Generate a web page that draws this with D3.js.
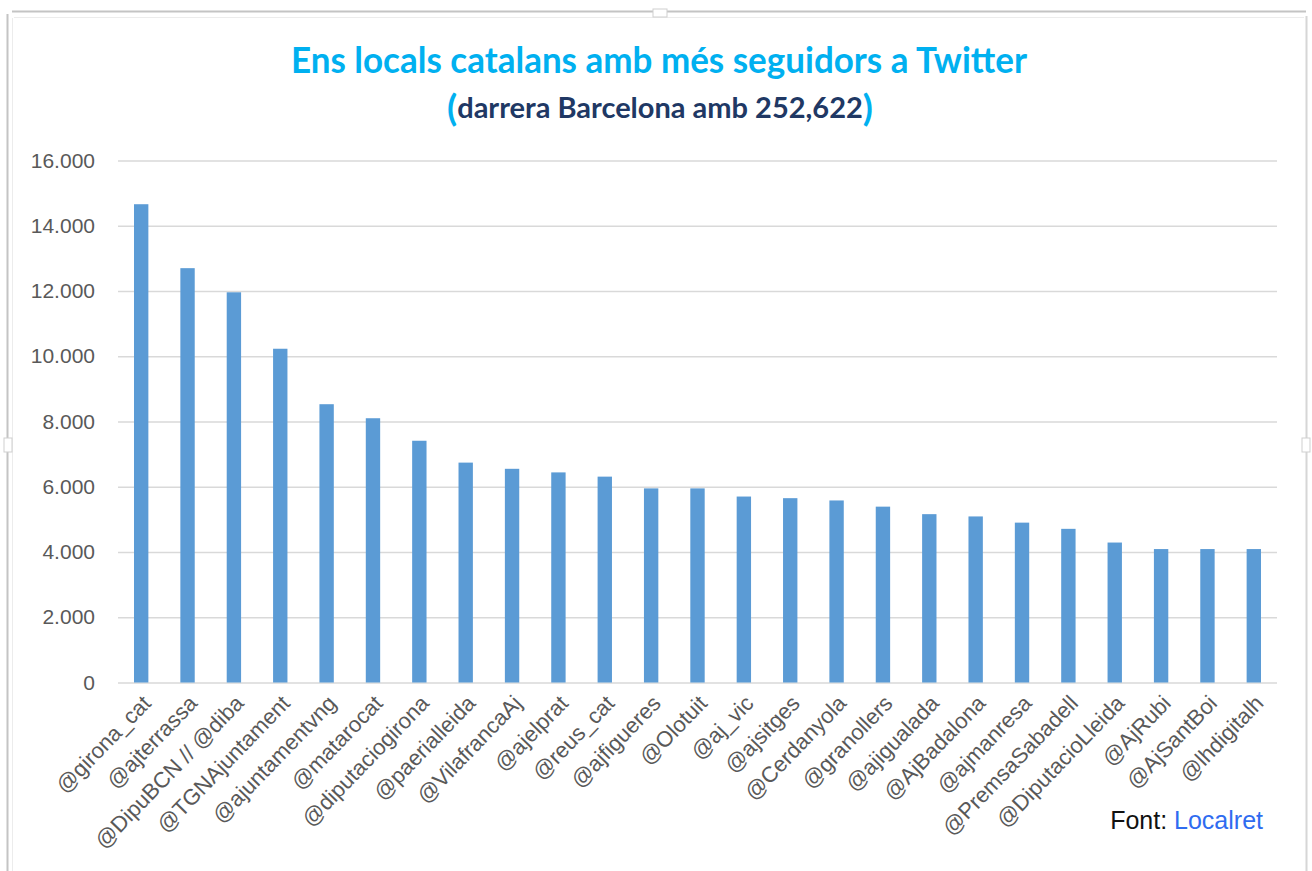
<!DOCTYPE html>
<html>
<head>
<meta charset="utf-8">
<script src="https://cdn.jsdelivr.net/npm/d3@7"></script>
<style>
  html, body { margin: 0; padding: 0; background: #fff; }
  svg { display: block; }
</style>
</head>
<body>
<svg id="chart" width="1312" height="871"></svg>
<script>
const categories = ["@girona_cat","@ajterrassa","@DipuBCN // @diba","@TGNAjuntament","@ajuntamentvng","@matarocat","@diputaciogirona","@paerialleida","@VilafrancaAj","@ajelprat","@reus_cat","@ajfigueres","@Olotuit","@aj_vic","@ajsitges","@Cerdanyola","@granollers","@ajigualada","@AjBadalona","@ajmanresa","@PremsaSabadell","@DiputacioLleida","@AjRubi","@AjSantBoi","@lhdigitalh"];
const followers = [14660,12700,11960,10230,8530,8100,7410,6740,6550,6440,6310,5950,5950,5700,5650,5580,5390,5160,5090,4900,4710,4290,4090,4090,4090];
const yTicks = [0,2000,4000,6000,8000,10000,12000,14000,16000];
const titleText = "Ens locals catalans amb més seguidors a Twitter";
const subtitleText = "darrera Barcelona amb 252,622";
const sourceLabel = "Font: ";
const sourceName = "Localret";

const svg = d3.select("#chart");
const W = 1312, H = 871;
const plotLeft = 118, plotRight = 1277, plotTop = 160.5, plotBottom = 682.5;

// frame (chart area border, as in the screenshot)
const frame = svg.append("g").attr("fill", "none");
frame.append("line").attr("x1", 12).attr("x2", 1306).attr("y1", 11.5).attr("y2", 11.5).attr("stroke", "#c4c4c4").attr("stroke-width", 2);
frame.append("line").attr("x1", 14).attr("x2", 1304).attr("y1", 17.5).attr("y2", 17.5).attr("stroke", "#ececec").attr("stroke-width", 1);
frame.append("line").attr("x1", 7.5).attr("x2", 7.5).attr("y1", 14).attr("y2", H).attr("stroke", "#c4c4c4").attr("stroke-width", 2);
frame.append("line").attr("x1", 12.5).attr("x2", 12.5).attr("y1", 18).attr("y2", H).attr("stroke", "#ececec").attr("stroke-width", 1);
frame.append("line").attr("x1", 1306.5).attr("x2", 1306.5).attr("y1", 16).attr("y2", H).attr("stroke", "#d6d6d6").attr("stroke-width", 2);
// selection handles
[[660, 13, 14, 8], [8, 445, 8, 14], [1306, 445, 8, 14]].forEach(([cx, cy, w, h]) => {
  frame.append("rect").attr("x", cx - w / 2).attr("y", cy - h / 2).attr("width", w).attr("height", h)
    .attr("fill", "#fff").attr("stroke", "#cfcfcf").attr("stroke-width", 1);
});

const x = d3.scaleBand().domain(categories).range([plotLeft, plotRight]).paddingInner(0.69).paddingOuter(0.345);
const y = d3.scaleLinear().domain([0, 16000]).range([plotBottom, plotTop]);

const loc = d3.formatLocale({ decimal: ",", thousands: ".", grouping: [3], currency: ["", "€"] });
const fmt = loc.format(",d");

// y axis with gridlines
const yAxis = svg.append("g").attr("transform", `translate(${plotLeft},0)`)
  .call(d3.axisLeft(y).tickValues(yTicks).tickSize(-(plotRight - plotLeft)).tickPadding(23).tickFormat(fmt));
yAxis.select(".domain").remove();
yAxis.selectAll(".tick line").attr("stroke", "#d9d9d9").attr("stroke-width", 1.3);
yAxis.selectAll(".tick text").attr("fill", "#595959").attr("font-size", 21)
  .attr("font-family", "'Liberation Sans', Arial, sans-serif");

// bars
svg.append("g").selectAll("rect").data(categories).join("rect")
  .attr("x", d => x(d))
  .attr("width", x.bandwidth())
  .attr("y", (d, i) => y(followers[i]))
  .attr("height", (d, i) => y(0) - y(followers[i]))
  .attr("fill", "#5b9bd5");

// x axis labels
const xAxis = svg.append("g").attr("transform", `translate(0,${plotBottom})`)
  .call(d3.axisBottom(x).tickSize(0).tickPadding(0));
xAxis.select(".domain").remove();
xAxis.selectAll(".tick text")
  .attr("fill", "#595959").attr("font-size", 22)
  .attr("font-family", "'Liberation Sans', Arial, sans-serif")
  .attr("text-anchor", "end")
  .attr("dy", "0")
  .attr("transform", "translate(11,22) rotate(-46)");

// title
svg.append("text").attr("x", 659).attr("y", 73).attr("text-anchor", "middle")
  .attr("font-family", "Lato, 'Open Sans', sans-serif").attr("font-weight", "bold")
  .attr("font-size", 37).attr("fill", "#00b0f0")
  .attr("textLength", 736).attr("lengthAdjust", "spacingAndGlyphs")
  .text(titleText);

// subtitle
const sub = svg.append("text").attr("x", 660).attr("y", 118).attr("text-anchor", "middle")
  .attr("font-family", "Lato, 'Open Sans', sans-serif").attr("font-weight", "bold");
sub.append("tspan").attr("font-size", 37).attr("fill", "#00b0f0").attr("dy", 3).text("(");
sub.append("tspan").attr("font-size", 29).attr("fill", "#203864").attr("dy", -3).text(subtitleText);
sub.append("tspan").attr("font-size", 37).attr("fill", "#00b0f0").attr("dy", 3).text(")");

// source
const src = svg.append("text").attr("x", 1263).attr("y", 829).attr("text-anchor", "end")
  .attr("font-family", "'Liberation Sans', Arial, sans-serif").attr("font-size", 25);
src.append("tspan").attr("fill", "#111").text(sourceLabel);
src.append("tspan").attr("fill", "#2f6cf0").text(sourceName);
</script>
</body>
</html>
